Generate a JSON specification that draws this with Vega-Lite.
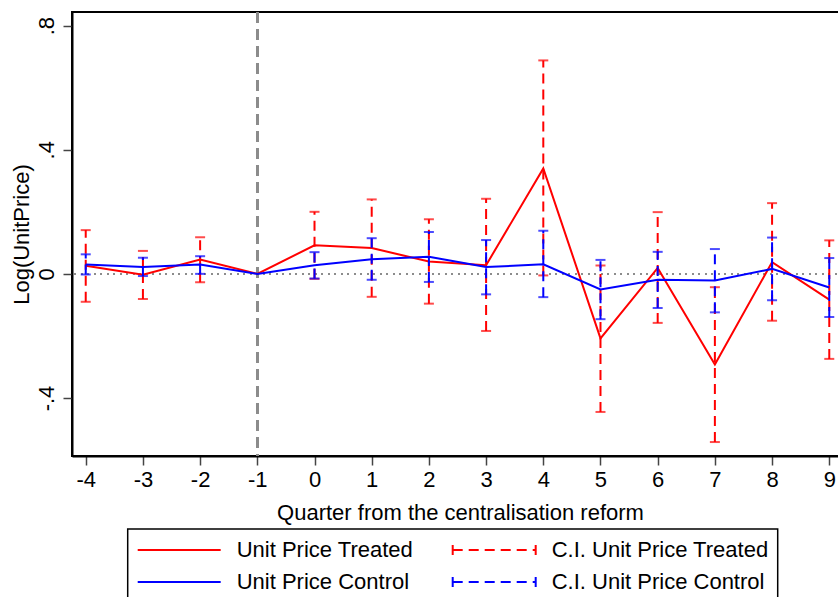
{
  "$schema": "https://vega.github.io/schema/vega-lite/v6.json",
  "width": 771,
  "height": 444,
  "autosize": {"type": "none"},
  "padding": {"left": 72, "top": 12, "right": 0, "bottom": 141},
  "background": "white",
  "config": {
    "font": "Liberation Sans",
    "view": {"stroke": "black", "strokeWidth": 2},
    "axis": {
      "grid": false,
      "domainColor": "black",
      "domainWidth": 2,
      "tickColor": "#444444",
      "tickWidth": 1.5,
      "tickSize": 9,
      "labelFont": "Liberation Sans",
      "labelFontSize": 22,
      "labelColor": "black",
      "titleFont": "Liberation Sans",
      "titleFontSize": 22,
      "titleFontWeight": "normal",
      "titleColor": "black"
    }
  },
  "data": {
    "values": [
      {"q": -4, "group": "Treated", "est": 0.026, "lo": -0.090, "hi": 0.141},
      {"q": -3, "group": "Treated", "est": -0.003, "lo": -0.081, "hi": 0.074},
      {"q": -2, "group": "Treated", "est": 0.046, "lo": -0.027, "hi": 0.118},
      {"q": -1, "group": "Treated", "est": 0.0, "lo": null, "hi": null},
      {"q": 0, "group": "Treated", "est": 0.092, "lo": -0.016, "hi": 0.200},
      {"q": 1, "group": "Treated", "est": 0.083, "lo": -0.074, "hi": 0.240},
      {"q": 2, "group": "Treated", "est": 0.040, "lo": -0.096, "hi": 0.176},
      {"q": 3, "group": "Treated", "est": 0.028, "lo": -0.184, "hi": 0.242},
      {"q": 4, "group": "Treated", "est": 0.340, "lo": -0.005, "hi": 0.688},
      {"q": 5, "group": "Treated", "est": -0.208, "lo": -0.445, "hi": 0.027},
      {"q": 6, "group": "Treated", "est": 0.019, "lo": -0.158, "hi": 0.199},
      {"q": 7, "group": "Treated", "est": -0.292, "lo": -0.542, "hi": -0.043},
      {"q": 8, "group": "Treated", "est": 0.038, "lo": -0.151, "hi": 0.228},
      {"q": 9, "group": "Treated", "est": -0.083, "lo": -0.274, "hi": 0.108},
      {"q": -4, "group": "Control", "est": 0.030, "lo": -0.002, "hi": 0.063},
      {"q": -3, "group": "Control", "est": 0.022, "lo": -0.007, "hi": 0.052},
      {"q": -2, "group": "Control", "est": 0.030, "lo": 0.000, "hi": 0.057},
      {"q": -1, "group": "Control", "est": 0.0, "lo": null, "hi": null},
      {"q": 0, "group": "Control", "est": 0.028, "lo": -0.015, "hi": 0.070},
      {"q": 1, "group": "Control", "est": 0.047, "lo": -0.019, "hi": 0.115},
      {"q": 2, "group": "Control", "est": 0.055, "lo": -0.026, "hi": 0.135},
      {"q": 3, "group": "Control", "est": 0.022, "lo": -0.066, "hi": 0.109},
      {"q": 4, "group": "Control", "est": 0.031, "lo": -0.075, "hi": 0.139},
      {"q": 5, "group": "Control", "est": -0.050, "lo": -0.146, "hi": 0.045},
      {"q": 6, "group": "Control", "est": -0.019, "lo": -0.110, "hi": 0.071},
      {"q": 7, "group": "Control", "est": -0.021, "lo": -0.124, "hi": 0.080},
      {"q": 8, "group": "Control", "est": 0.016, "lo": -0.085, "hi": 0.117},
      {"q": 9, "group": "Control", "est": -0.044, "lo": -0.139, "hi": 0.051}
    ]
  },
  "encoding": {
    "x": {
      "field": "q",
      "type": "quantitative",
      "scale": {"domain": [-4.24, 9.24], "nice": false, "zero": false},
      "axis": {
        "values": [-4, -3, -2, -1, 0, 1, 2, 3, 4, 5, 6, 7, 8, 9],
        "labelExpr": "'' + datum.value",
        "labelPadding": 4,
        "labelBaseline": "top",
        "labelFlush": false,
        "title": "Quarter from the centralisation reform",
        "titleX": 388,
        "titleY": 63,
        "titleBaseline": "alphabetic",
        "titleAlign": "center"
      }
    }
  },
  "layer": [
    {
      "mark": {"type": "rule", "color": "#8c8c8c", "strokeWidth": 1.5, "strokeDash": [1.5, 5]},
      "encoding": {"y": {"datum": 0, "type": "quantitative"}, "x": null}
    },
    {
      "mark": {"type": "rule", "color": "#8c8c8c", "strokeWidth": 2, "strokeDash": [11, 6]},
      "encoding": {"x": {"datum": -1, "type": "quantitative"}}
    },
    {
      "transform": [{"filter": "datum.group === 'Treated'"}],
      "mark": {"type": "line", "strokeWidth": 2},
      "encoding": {
        "y": {
          "field": "est",
          "type": "quantitative",
          "scale": {"domain": [-0.587, 0.844], "nice": false, "zero": false},
          "axis": {
            "values": [-0.4, 0, 0.4, 0.8],
            "labelExpr": "datum.value === 0 ? '0' : replace('' + datum.value, '0.', '.')",
            "labelAngle": -90,
            "labelAlign": "center",
            "labelBaseline": "alphabetic",
            "labelPadding": 10,
            "title": "Log(UnitPrice)",
            "titleAngle": -90,
            "titleX": -43.7,
            "titleY": 222,
            "titleAlign": "center",
            "titleBaseline": "alphabetic"
          }
        },
        "color": {
          "datum": "Unit Price Treated",
          "type": "nominal",
          "scale": {
            "domain": ["Unit Price Treated", "C.I. Unit Price Treated", "Unit Price Control", "C.I. Unit Price Control"],
            "range": ["#ff0000", "#ff0000", "#0000ff", "#0000ff"]
          },
          "legend": {
            "title": null,
            "orient": "none",
            "legendX": 55.7,
            "legendY": 517,
            "columns": 2,
            "direction": "horizontal",
            "padding": 9,
            "strokeColor": "black",
            "symbolType": "stroke",
            "symbolSize": 484,
            "symbolStrokeWidth": 2,
            "labelFont": "Liberation Sans",
            "labelFontSize": 22,
            "labelColor": "black",
            "labelOffset": 76,
            "labelLimit": 400,
            "columnPadding": 35,
            "rowPadding": 9,
            "encode": {
              "legend": {"update": {"strokeWidth": {"value": 1.5}}},
              "symbols": {
                "update": {
                  "shape": {"signal": "indexof(datum.value, 'C.I.') === 0 ? 'M-1,-0.45L-1,0.45M-1,0L6.545,0M6.545,-0.45L6.545,0.45' : 'M-1,0L6.545,0'"},
                  "strokeDash": {"signal": "indexof(datum.value, 'C.I.') === 0 ? [10, 6] : [1, 0]"},
                  "fill": {"value": "transparent"},
                  "strokeWidth": {"value": 2}
                }
              }
            }
          }
        }
      }
    },
    {
      "transform": [{"filter": "datum.group === 'Treated' && datum.lo != null"}],
      "mark": {"type": "rule", "strokeWidth": 2, "strokeDash": [10, 6]},
      "encoding": {
        "y": {"field": "lo", "type": "quantitative"},
        "y2": {"field": "hi"},
        "color": {"datum": "C.I. Unit Price Treated", "type": "nominal"}
      }
    },
    {
      "transform": [{"filter": "datum.group === 'Treated' && datum.lo != null"}],
      "mark": {"type": "tick", "orient": "horizontal", "size": 10, "thickness": 2},
      "encoding": {
        "y": {"field": "lo", "type": "quantitative"},
        "color": {"datum": "C.I. Unit Price Treated", "type": "nominal"}
      }
    },
    {
      "transform": [{"filter": "datum.group === 'Treated' && datum.lo != null"}],
      "mark": {"type": "tick", "orient": "horizontal", "size": 10, "thickness": 2},
      "encoding": {
        "y": {"field": "hi", "type": "quantitative"},
        "color": {"datum": "C.I. Unit Price Treated", "type": "nominal"}
      }
    },
    {
      "transform": [{"filter": "datum.group === 'Control'"}],
      "mark": {"type": "line", "strokeWidth": 2},
      "encoding": {
        "y": {"field": "est", "type": "quantitative"},
        "color": {"datum": "Unit Price Control", "type": "nominal"}
      }
    },
    {
      "transform": [{"filter": "datum.group === 'Control' && datum.lo != null"}],
      "mark": {"type": "rule", "strokeWidth": 2, "strokeDash": [10, 6]},
      "encoding": {
        "y": {"field": "lo", "type": "quantitative"},
        "y2": {"field": "hi"},
        "color": {"datum": "C.I. Unit Price Control", "type": "nominal"}
      }
    },
    {
      "transform": [{"filter": "datum.group === 'Control' && datum.lo != null"}],
      "mark": {"type": "tick", "orient": "horizontal", "size": 10, "thickness": 2},
      "encoding": {
        "y": {"field": "lo", "type": "quantitative"},
        "color": {"datum": "C.I. Unit Price Control", "type": "nominal"}
      }
    },
    {
      "transform": [{"filter": "datum.group === 'Control' && datum.lo != null"}],
      "mark": {"type": "tick", "orient": "horizontal", "size": 10, "thickness": 2},
      "encoding": {
        "y": {"field": "hi", "type": "quantitative"},
        "color": {"datum": "C.I. Unit Price Control", "type": "nominal"}
      }
    }
  ]
}
